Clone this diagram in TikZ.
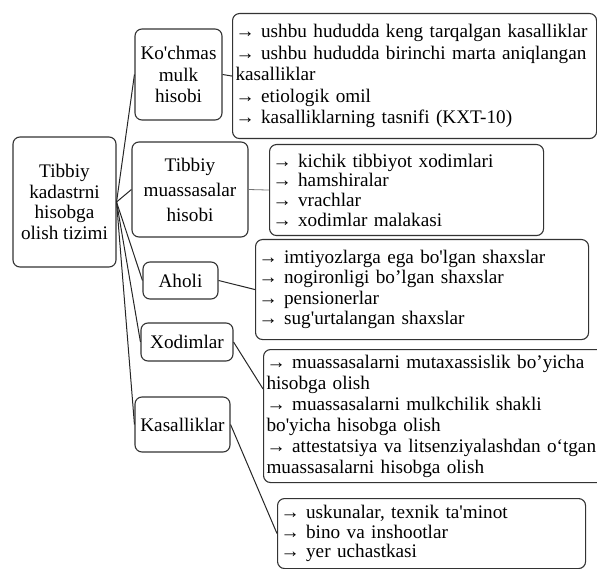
\documentclass[tikz,border=0pt]{standalone}
\usepackage{fontspec}
\newfontfamily\boxfont{Liberation Serif}
\newcommand{\sq}{\textquotesingle}
\begin{document}
\begin{tikzpicture}[x=1pt,y=-1pt,
  box/.style={draw=black!80, line width=1.1pt, rounded corners=7pt, inner sep=0pt,
    font=\boxfont\fontsize{19.2}{21.5}\selectfont},
  head/.style={box, align=center},
  list/.style={box, anchor=north west, align=left, inner xsep=3pt},
  conn/.style={draw=black!85, line width=1pt},
  thin/.style={draw=black!55, line width=0.8pt}]
\useasboundingbox (0,0) rectangle (597,569);

% root and the five branches
\node[head, minimum width=103pt, minimum height=130pt, font=\boxfont\fontsize{19.2}{20.5}\selectfont] (root) at (64.5,202)
  {Tibbiy\\kadastrni\\hisobga\\olish tizimi};
\node[head, minimum width=87pt, minimum height=91pt] (kmh) at (178.5,74.5)
  {Ko\sq chmas\\mulk\\hisobi};
\node[head, minimum width=116pt, minimum height=95pt, font=\boxfont\fontsize{19.2}{25}\selectfont] (tma) at (190,189.5)
  {Tibbiy\\muassasalar\\hisobi};
\node[head, minimum width=75pt, minimum height=37pt] (aho) at (180.5,280.5) {Aholi};
\node[head, minimum width=92pt, minimum height=38pt] (xod) at (187,342) {Xodimlar};
\node[head, minimum width=95pt, minimum height=55pt] (kas) at (182.5,424.5) {Kasalliklar};

% detail lists
\node[list, text width=358pt, minimum height=125pt] (b1) at (232,13)
  {→ ushbu hududda keng tarqalgan kasalliklar\\
   → ushbu hududda birinchi marta aniqlangan\\
   kasalliklar\\
   → etiologik omil\\
   → kasalliklarning tasnifi (KXT-10)};
\node[list, text width=268pt, minimum height=91pt, font=\boxfont\fontsize{19.2}{19.7}\selectfont] (b2) at (269,144)
  {→ kichik tibbiyot xodimlari\\
   → hamshiralar\\
   → vrachlar\\
   → xodimlar malakasi};
\node[list, text width=327pt, minimum height=100pt, font=\boxfont\fontsize{19.2}{20.5}\selectfont] (b3) at (255,239)
  {→ imtiyozlarga ega bo\sq lgan shaxslar\\
   → nogironligi bo’lgan shaxslar\\
   → pensionerlar\\
   → sug\sq urtalangan shaxslar};
\node[list, text width=336pt, minimum height=133pt, font=\boxfont\fontsize{19.2}{21}\selectfont] (b4) at (263,349)
  {→ muassasalarni mutaxassislik bo’yicha\\
   hisobga olish\\
   → muassasalarni mulkchilik shakli\\
   bo\sq yicha hisobga olish\\
   → attestatsiya va litsenziyalashdan o‘tgan\\
   muassasalarni hisobga olish};
\node[list, text width=302pt, minimum height=70pt, font=\boxfont\fontsize{19.2}{19.5}\selectfont] (b5) at (277,498)
  {→ uskunalar, texnik ta\sq minot\\
   → bino va inshootlar\\
   → yer uchastkasi};

% connectors from the root
\draw[conn] (root.east) -- (kmh.west);
\draw[conn] (root.east) -- (tma.west);
\draw[conn] (root.east) -- (aho.west);
\draw[conn] (root.east) -- (xod.west);
\draw[conn] (root.east) -- (kas.west);

% connectors to the lists
\draw[conn] (kmh.east) -- (b1.west);
\draw[thin] (tma.east) -- (b2.west);
\draw[conn] (aho.east) -- (b3.west);
\draw[conn] (xod.east) -- (b4.171);
\draw[conn] (kas.east) -- (b5.west);
\end{tikzpicture}
\end{document}
